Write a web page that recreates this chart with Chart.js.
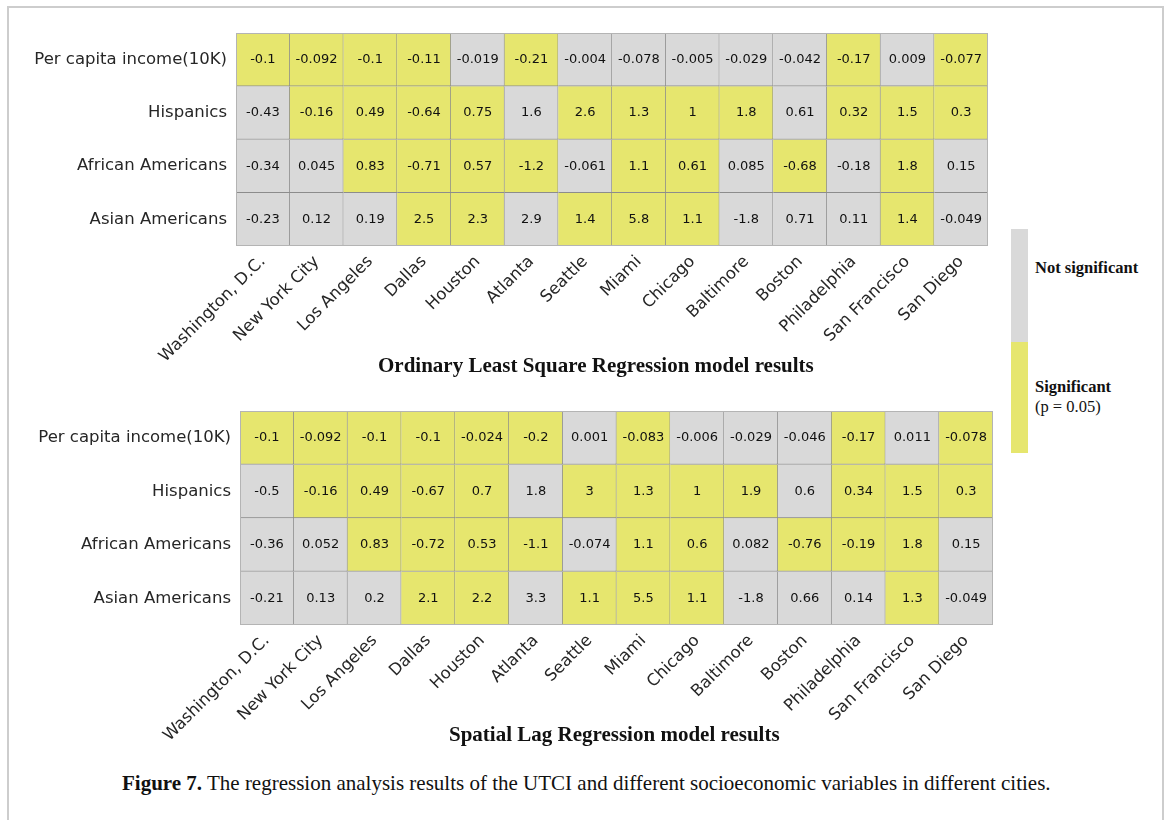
<!DOCTYPE html>
<html>
<head>
<meta charset="utf-8">
<script src="https://cdn.jsdelivr.net/npm/chart.js@4.4.0/dist/chart.umd.min.js"></script>
<style>
html,body{margin:0;padding:0;background:#fff;}
body{width:1168px;height:820px;position:relative;overflow:hidden;font-family:"DejaVu Sans",sans-serif;}
.frame{position:absolute;left:7px;top:6px;width:1157px;height:840px;border:2px solid #cdcdcd;box-sizing:border-box;}
.box{position:absolute;left:0;width:1000px;height:370px;}
#b1{top:0;}
#b2{top:378px;}
.serif{position:absolute;font-family:"Liberation Serif","Times New Roman",serif;color:#111;white-space:nowrap;line-height:1;}
.title{font-weight:bold;font-size:21px;}
.leg{font-size:16.5px;}
.bar{position:absolute;left:1011px;width:17px;}
</style>
</head>
<body>
<div class="frame"></div>
<div class="box" id="b1"><canvas id="c1"></canvas></div>
<div class="box" id="b2"><canvas id="c2"></canvas></div>

<div class="serif title" style="left:378px;top:355px;">Ordinary Least Square Regression model results</div>
<div class="serif title" style="left:449px;top:724px;">Spatial Lag Regression model results</div>
<div class="serif" style="left:122px;top:773px;font-size:21px;"><b>Figure 7.</b> The regression analysis results of the UTCI and different socioeconomic variables in different cities.</div>

<div class="bar" style="top:229px;height:113px;background:#d9d9d9;"></div>
<div class="bar" style="top:342px;height:111px;background:#e6e66e;"></div>
<div class="serif leg" style="left:1035px;top:260px;font-weight:bold;">Not significant</div>
<div class="serif leg" style="left:1035px;top:379px;font-weight:bold;">Significant</div>
<div class="serif leg" style="left:1035px;top:399px;">(p = 0.05)</div>

<script>
// ---------- DATA ----------
const cities = ["Washington, D.C.", "New York City", "Los Angeles", "Dallas", "Houston", "Atlanta", "Seattle",
  "Miami", "Chicago", "Baltimore", "Boston", "Philadelphia", "San Francisco", "San Diego"];
const variables = ["Per capita income(10K)", "Hispanics", "African Americans", "Asian Americans"];

// Ordinary Least Square regression coefficients
const olsIncome   = [-0.1, -0.092, -0.1, -0.11, -0.019, -0.21, -0.004, -0.078, -0.005, -0.029, -0.042, -0.17, 0.009, -0.077];
const olsHispanic = [-0.43, -0.16, 0.49, -0.64, 0.75, 1.6, 2.6, 1.3, 1, 1.8, 0.61, 0.32, 1.5, 0.3];
const olsAfrican  = [-0.34, 0.045, 0.83, -0.71, 0.57, -1.2, -0.061, 1.1, 0.61, 0.085, -0.68, -0.18, 1.8, 0.15];
const olsAsian    = [-0.23, 0.12, 0.19, 2.5, 2.3, 2.9, 1.4, 5.8, 1.1, -1.8, 0.71, 0.11, 1.4, -0.049];
// significance (1 = significant at p = 0.05)
const olsIncomeSig   = [1,1,1,1,0,1,0,0,0,0,0,1,0,1];
const olsHispanicSig = [0,1,1,1,1,0,1,1,1,1,0,1,1,1];
const olsAfricanSig  = [0,0,1,1,1,1,0,1,1,0,1,0,1,0];
const olsAsianSig    = [0,0,0,1,1,0,1,1,1,0,0,0,1,0];

// Spatial Lag regression coefficients
const slrIncome   = [-0.1, -0.092, -0.1, -0.1, -0.024, -0.2, 0.001, -0.083, -0.006, -0.029, -0.046, -0.17, 0.011, -0.078];
const slrHispanic = [-0.5, -0.16, 0.49, -0.67, 0.7, 1.8, 3, 1.3, 1, 1.9, 0.6, 0.34, 1.5, 0.3];
const slrAfrican  = [-0.36, 0.052, 0.83, -0.72, 0.53, -1.1, -0.074, 1.1, 0.6, 0.082, -0.76, -0.19, 1.8, 0.15];
const slrAsian    = [-0.21, 0.13, 0.2, 2.1, 2.2, 3.3, 1.1, 5.5, 1.1, -1.8, 0.66, 0.14, 1.3, -0.049];
const slrIncomeSig   = [1,1,1,1,1,1,0,1,0,0,0,1,0,1];
const slrHispanicSig = [0,1,1,1,1,0,1,1,1,1,0,1,1,1];
const slrAfricanSig  = [0,0,1,1,1,1,0,1,1,0,1,1,1,0];
const slrAsianSig    = [0,0,0,1,1,0,1,1,1,0,0,0,1,0];

// ---------- STYLE ----------
const YELLOW = "#e6e66e";
const GRAY = "#d9d9d9";

const cellText = {
  id: "cellText",
  afterDatasetsDraw(chart) {
    const ctx = chart.ctx;
    ctx.save();
    ctx.font = '13px "DejaVu Sans"';
    ctx.fillStyle = "#111";
    ctx.textAlign = "center";
    ctx.textBaseline = "middle";
    chart.data.datasets.forEach((ds, di) => {
      chart.getDatasetMeta(di).data.forEach((el, j) => {
        ctx.fillText(String(ds.values[j]), el.x, (el.y + el.base) / 2);
      });
    });
    const a = chart.chartArea;
    ctx.strokeStyle = "#b4b4b4";
    ctx.lineWidth = 1;
    ctx.strokeRect(Math.round(a.left) + 0.5, Math.round(a.top) + 0.5,
      Math.round(a.right - a.left) - 1, Math.round(a.bottom - a.top) - 1);
    ctx.restore();
  }
};

function makeHeatmap(canvasId, rows, sigs, yWidth, xHeight, padRight) {
  const datasets = rows.map((vals, r) => ({
    data: cities.map(() => [r, r + 1]),
    values: vals,
    backgroundColor: sigs[r].map(s => (s ? YELLOW : GRAY)),
    borderColor: "#8c8c8c",
    borderWidth: { top: 0, left: 0, right: 1, bottom: 1 },
    borderSkipped: false,
    barPercentage: 1,
    categoryPercentage: 1
  }));
  return new Chart(document.getElementById(canvasId), {
    type: "bar",
    data: { labels: cities, datasets },
    plugins: [cellText],
    options: {
      responsive: true,
      maintainAspectRatio: false,
      animation: false,
      devicePixelRatio: 1,
      layout: { padding: { top: 33, right: padRight, left: 0, bottom: 0 } },
      plugins: { legend: { display: false }, tooltip: { enabled: false } },
      scales: {
        x: {
          stacked: true,
          grid: { display: false, drawTicks: false },
          border: { display: false },
          ticks: {
            autoSkip: false, minRotation: 45, maxRotation: 45, padding: 6,
            color: "#262626", font: { family: "DejaVu Sans", size: 16.5 }
          },
          afterFit: s => { s.height = xHeight; }
        },
        y: {
          type: "linear", min: 0, max: variables.length, reverse: true, stacked: false,
          grid: { display: false, drawTicks: false },
          border: { display: false },
          afterBuildTicks: s => { s.ticks = variables.map((_, i) => ({ value: i + 0.5 })); },
          ticks: {
            autoSkip: false, padding: 9,
            color: "#262626", font: { family: "DejaVu Sans", size: 16.5 },
            callback: (v, i) => variables[i]
          },
          afterFit: s => { s.width = yWidth; }
        }
      }
    }
  });
}

makeHeatmap("c1",
  [olsIncome, olsHispanic, olsAfrican, olsAsian],
  [olsIncomeSig, olsHispanicSig, olsAfricanSig, olsAsianSig],
  236, 124, 12);
makeHeatmap("c2",
  [slrIncome, slrHispanic, slrAfrican, slrAsian],
  [slrIncomeSig, slrHispanicSig, slrAfricanSig, slrAsianSig],
  240, 123, 7);
</script>
</body>
</html>
